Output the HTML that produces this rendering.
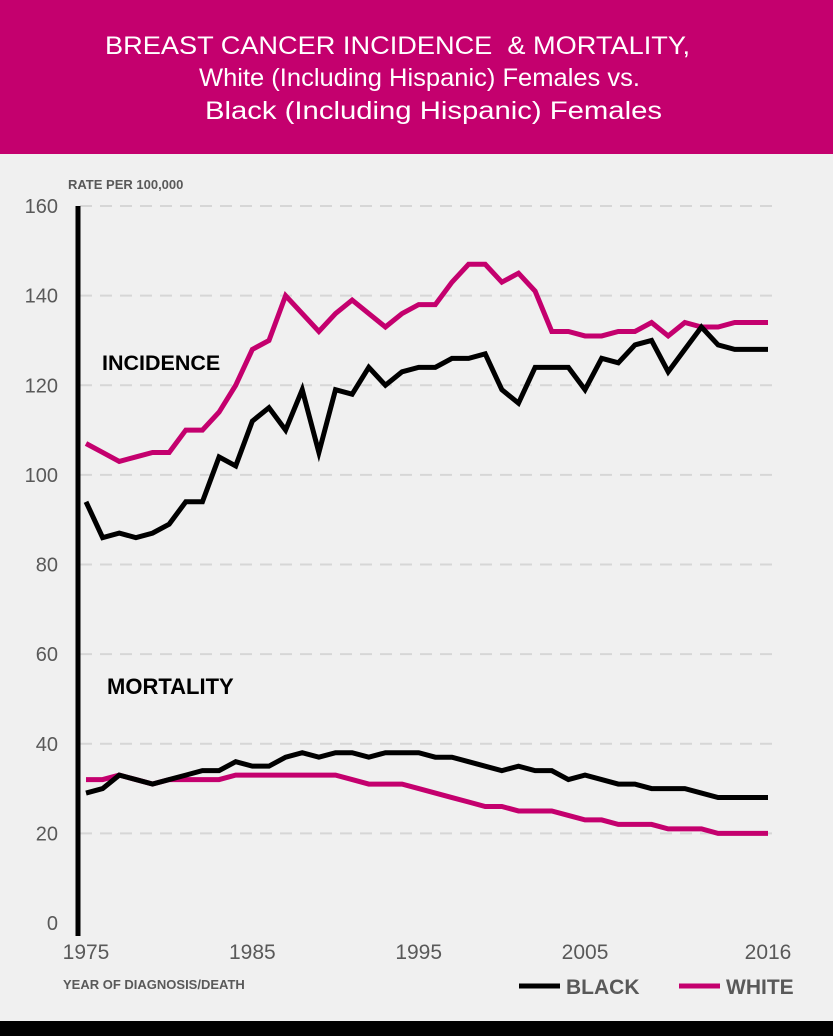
<!DOCTYPE html>
<html><head><meta charset="utf-8"><style>
body{margin:0;width:833px;height:1036px;background:#f0f0f0;font-family:"Liberation Sans",Arial,sans-serif;overflow:hidden;position:relative}
#hdr{position:absolute;left:0;top:0;width:833px;height:154px;background:#c4006e}
#foot{position:absolute;left:0;top:1021px;width:833px;height:15px;background:#000}
</style></head><body>
<div id="hdr">
<svg width="833" height="154" style="position:absolute;left:0;top:0">
<text x="105" y="54" font-size="25" fill="#fff" font-family="Liberation Sans, Arial, sans-serif" textLength="585" lengthAdjust="spacingAndGlyphs" xml:space="preserve">BREAST CANCER INCIDENCE  &amp; MORTALITY,</text>
<text x="199" y="86" font-size="25" fill="#fff" font-family="Liberation Sans, Arial, sans-serif" textLength="441" lengthAdjust="spacingAndGlyphs">White (Including Hispanic) Females vs.</text>
<text x="205" y="119" font-size="25" fill="#fff" font-family="Liberation Sans, Arial, sans-serif" textLength="457" lengthAdjust="spacingAndGlyphs">Black (Including Hispanic) Females</text>
</svg>
</div>
<svg id="chart" width="833" height="1036" style="position:absolute;left:0;top:0"></svg>
<div id="foot"></div>
<script>
const years=[];for(let y=1975;y<=2016;y++)years.push(y);
const yTicks=[0,20,40,60,80,100,120,140,160];
const xTicks=[1975,1985,1995,2005,2016];
const whiteInc=[107,105,103,104,105,105,110,110,114,120,128,130,140,136,132,136,139,136,133,136,138,138,143,147,147,143,145,141,132,132,131,131,132,132,134,131,134,133,133,134,134,134];
const blackInc=[94,86,87,86,87,89,94,94,104,102,112,115,110,119,105,119,118,124,120,123,124,124,126,126,127,119,116,124,124,124,119,126,125,129,130,123,128,133,129,128,128,128];
const blackMort=[29,30,33,32,31,32,33,34,34,36,35,35,37,38,37,38,38,37,38,38,38,37,37,36,35,34,35,34,34,32,33,32,31,31,30,30,30,29,28,28,28,28];
const whiteMort=[32,32,33,32,31,32,32,32,32,33,33,33,33,33,33,33,32,31,31,31,30,29,28,27,26,26,25,25,25,24,23,23,22,22,22,21,21,21,20,20,20,20];
const svg=document.getElementById('chart');const NS='http://www.w3.org/2000/svg';
const X=v=>86+(v-1975)*(768-86)/41;
const Y=v=>923-v*(923-206)/160;
function mk(t,a){const e=document.createElementNS(NS,t);for(const k in a)e.setAttribute(k,a[k]);svg.appendChild(e);return e;}
yTicks.forEach(t=>{
 if(t>0){const g=mk('line',{x1:80,x2:776,y1:Y(t),y2:Y(t),stroke:'#d6d6d6','stroke-width':2,'stroke-dasharray':'12,8'});
 
 }
 const l=mk('text',{x:58,y:Y(t)+7,'text-anchor':'end','font-size':20,fill:'#595959','font-family':'Liberation Sans, Arial, sans-serif'});l.textContent=t;
 
 
});
xTicks.forEach(t=>{const l=mk('text',{x:X(t),y:959,'text-anchor':'middle','font-size':21,fill:'#595959','font-family':'Liberation Sans, Arial, sans-serif'});l.textContent=t;
 
 });
const ax=mk('line',{x1:78,x2:78,y1:206,y2:936,stroke:'#000','stroke-width':5});


function series(d,c,n){const p=mk('polyline',{points:d.map((v,i)=>X(years[i])+','+Y(v)).join(' '),fill:'none',stroke:c,'stroke-width':5,'stroke-linejoin':'miter','stroke-linecap':'butt'});
 
 }
series(whiteInc,'#c4006e','white-incidence-line');
series(blackInc,'#000','black-incidence-line');
series(whiteMort,'#c4006e','white-mortality-line');
series(blackMort,'#000','black-mortality-line');
function txt(s,x,y,sz,col,n){const t=mk('text',{x:x,y:y,'font-size':sz,'font-weight':'bold',fill:col,'font-family':'Liberation Sans, Arial, sans-serif'});t.textContent=s;
 
 }
txt('RATE PER 100,000',68,189,13,'#595959','y-axis-title');
txt('INCIDENCE',102,370,21.5,'#000','incidence-label');
txt('MORTALITY',107,694,22,'#000','mortality-label');
txt('YEAR OF DIAGNOSIS/DEATH',63,989,13,'#595959','x-axis-title');
const l1=mk('line',{x1:519,x2:560,y1:986,y2:986,stroke:'#000','stroke-width':5});


txt('BLACK',566,994,21,'#595959','legend-black-label');
const l2=mk('line',{x1:679,x2:720,y1:986,y2:986,stroke:'#c4006e','stroke-width':5});


txt('WHITE',726,994,21,'#595959','legend-white-label');
</script>
</body></html>
